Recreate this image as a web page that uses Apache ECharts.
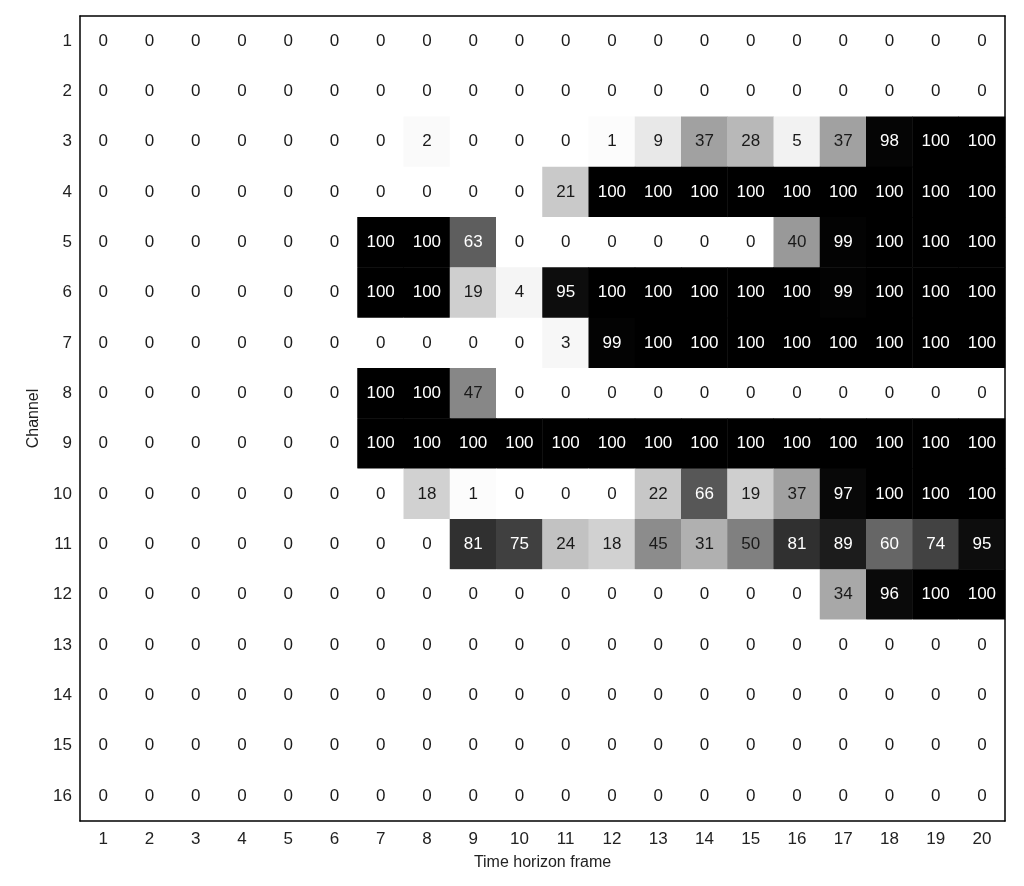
<!DOCTYPE html>
<html>
<head>
<meta charset="utf-8">
<script src="https://cdn.jsdelivr.net/npm/echarts@6/dist/echarts.min.js"></script>
<style>html,body{margin:0;padding:0;background:#fff}#c{width:1024px;height:886px}</style>
</head>
<body>
<div id="c"></div>
<script>
const frames = ['1','2','3','4','5','6','7','8','9','10','11','12','13','14','15','16','17','18','19','20'];
const channels = ['1','2','3','4','5','6','7','8','9','10','11','12','13','14','15','16'];
const ch1  = [0,0,0,0,0,0,0,0,0,0,0,0,0,0,0,0,0,0,0,0];
const ch2  = [0,0,0,0,0,0,0,0,0,0,0,0,0,0,0,0,0,0,0,0];
const ch3  = [0,0,0,0,0,0,0,2,0,0,0,1,9,37,28,5,37,98,100,100];
const ch4  = [0,0,0,0,0,0,0,0,0,0,21,100,100,100,100,100,100,100,100,100];
const ch5  = [0,0,0,0,0,0,100,100,63,0,0,0,0,0,0,40,99,100,100,100];
const ch6  = [0,0,0,0,0,0,100,100,19,4,95,100,100,100,100,100,99,100,100,100];
const ch7  = [0,0,0,0,0,0,0,0,0,0,3,99,100,100,100,100,100,100,100,100];
const ch8  = [0,0,0,0,0,0,100,100,47,0,0,0,0,0,0,0,0,0,0,0];
const ch9  = [0,0,0,0,0,0,100,100,100,100,100,100,100,100,100,100,100,100,100,100];
const ch10 = [0,0,0,0,0,0,0,18,1,0,0,0,22,66,19,37,97,100,100,100];
const ch11 = [0,0,0,0,0,0,0,0,81,75,24,18,45,31,50,81,89,60,74,95];
const ch12 = [0,0,0,0,0,0,0,0,0,0,0,0,0,0,0,0,34,96,100,100];
const ch13 = [0,0,0,0,0,0,0,0,0,0,0,0,0,0,0,0,0,0,0,0];
const ch14 = [0,0,0,0,0,0,0,0,0,0,0,0,0,0,0,0,0,0,0,0];
const ch15 = [0,0,0,0,0,0,0,0,0,0,0,0,0,0,0,0,0,0,0,0];
const ch16 = [0,0,0,0,0,0,0,0,0,0,0,0,0,0,0,0,0,0,0,0];
const rows = [ch1,ch2,ch3,ch4,ch5,ch6,ch7,ch8,ch9,ch10,ch11,ch12,ch13,ch14,ch15,ch16];

const data = [];
rows.forEach((r, yi) => r.forEach((v, xi) => {
  data.push({
    value: [xi, yi, v],
    label: { color: v > 55 ? '#ffffff' : '#1a1a1a' }
  });
}));

const FONT = 'Liberation Sans';
const chart = echarts.init(document.getElementById('c'), null, { renderer: 'canvas' });
chart.setOption({
  animation: false,
  backgroundColor: '#ffffff',
  grid: { left: 80, right: 19, top: 16, bottom: 65 },
  xAxis: [{
    type: 'category', data: frames, position: 'bottom', z: 10,
    name: 'Time horizon frame', nameLocation: 'middle', nameGap: 34,
    nameTextStyle: { fontFamily: FONT, fontSize: 16, color: '#222' },
    axisLine: { show: true, lineStyle: { color: '#000', width: 1.5 } },
    axisTick: { show: false },
    axisLabel: { fontFamily: FONT, fontSize: 17, color: '#222', margin: 10 },
    splitLine: { show: false }
  }, {
    type: 'category', data: frames, position: 'top', z: 10,
    axisLine: { show: true, lineStyle: { color: '#000', width: 1.5 } },
    axisTick: { show: false }, axisLabel: { show: false }, splitLine: { show: false }
  }],
  yAxis: [{
    type: 'category', data: channels, inverse: true, position: 'left', z: 10,
    name: 'Channel', nameLocation: 'middle', nameGap: 38, nameRotate: 90,
    nameTextStyle: { fontFamily: FONT, fontSize: 16, color: '#222' },
    axisLine: { show: true, lineStyle: { color: '#000', width: 1.5 } },
    axisTick: { show: false },
    axisLabel: { fontFamily: FONT, fontSize: 17, color: '#222', margin: 8 },
    splitLine: { show: false }
  }, {
    type: 'category', data: channels, inverse: true, position: 'right', z: 10,
    axisLine: { show: true, lineStyle: { color: '#000', width: 1.5 } },
    axisTick: { show: false }, axisLabel: { show: false }, splitLine: { show: false }
  }],
  visualMap: {
    show: false, min: 0, max: 100, dimension: 2,
    inRange: { color: ['#ffffff', '#000000'] }
  },
  series: [{
    type: 'heatmap',
    xAxisIndex: 0, yAxisIndex: 0,
    data: data,
    label: { show: true, fontFamily: FONT, fontSize: 17 },
    itemStyle: { borderWidth: 0 },
    emphasis: { disabled: true }
  }]
});
</script>
</body>
</html>
